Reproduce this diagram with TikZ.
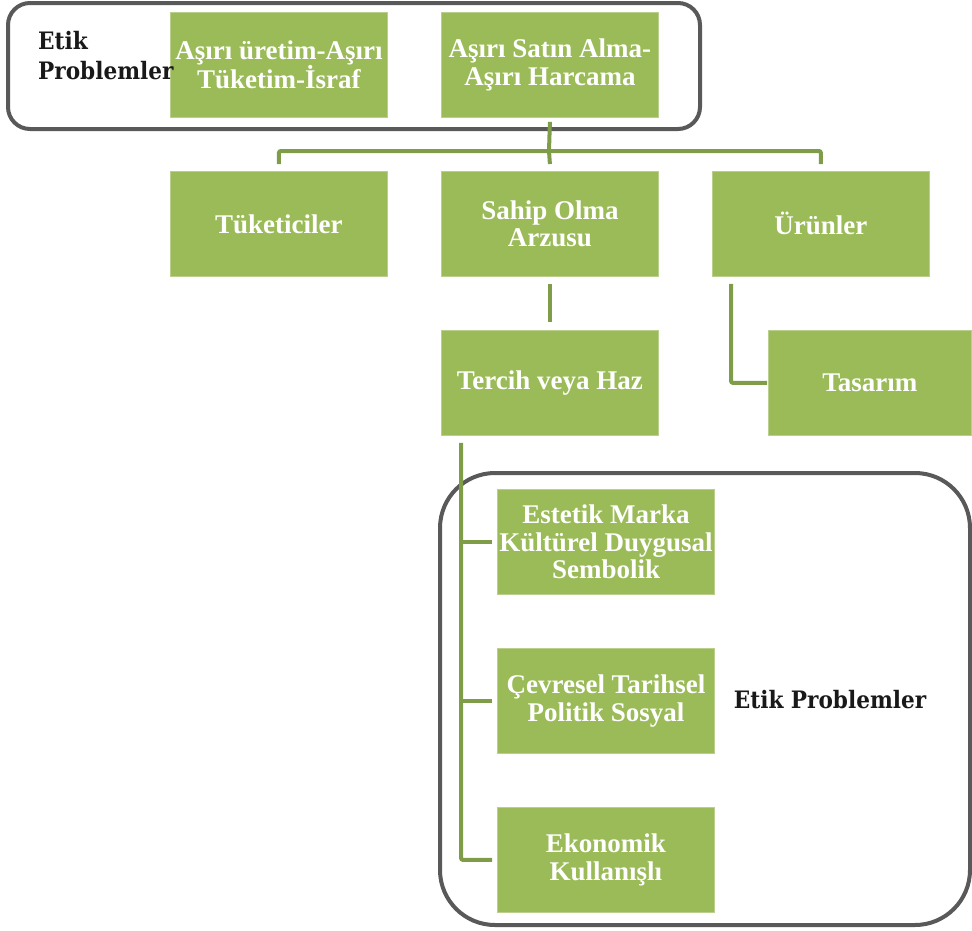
\documentclass[tikz,border=0pt]{standalone}
\usepackage{fontspec}
\setmainfont{Liberation Serif}
\newfontfamily\labelfont{DejaVu Serif Condensed}
\definecolor{boxgreen}{HTML}{9BBB59}
\definecolor{linegreen}{HTML}{7F9C48}
\definecolor{framegray}{HTML}{595959}
\begin{document}
\begin{tikzpicture}[x=1pt,y=-1pt,
  gbox/.style={fill=boxgreen, draw=boxgreen!70!white, line width=0.8pt, minimum width=217pt, minimum height=105pt,
    text=white, font=\bfseries\fontsize{27}{27.5}\selectfont, align=center, inner sep=2pt, anchor=north west},
  conn/.style={draw=linegreen, line width=4pt, rounded corners=2pt},
  frame/.style={draw=framegray, line width=4pt},
  label/.style={text=black!90, font=\labelfont\bfseries\fontsize{24}{30}\selectfont, align=left, inner sep=0pt}]
\useasboundingbox (0,0) rectangle (972,930);
% frames
\draw[frame, rounded corners=22pt] (8,3) rectangle (700,129);
\draw[frame, rounded corners=55pt] (440,473) rectangle (970,925);
% boxes
\node[gbox] (a1) at (170,12) {Aşırı üretim-Aşırı\\Tüketim-İsraf};
\node[gbox] (a2) at (441,12) {Aşırı Satın Alma-\\Aşırı Harcama};
\node[gbox] (c1) at (170,171) {Tüketiciler};
\node[gbox] (c2) at (441,171) {Sahip Olma\\Arzusu};
\node[gbox] (c3) at (712,171) {Ürünler};
\node[gbox] (t) at (441,330) {Tercih veya Haz};
\node[gbox, minimum width=203pt] (tas) at (768,330) {Tasarım};
\node[gbox] (e1) at (497,489) {Estetik Marka\\Kültürel Duygusal\\Sembolik};
\node[gbox] (e2) at (497,648) {Çevresel Tarihsel\\Politik Sosyal};
\node[gbox] (e3) at (497,807) {Ekonomik\\Kullanışlı};
% labels
\node[label, anchor=west] (l1) at (38,56) {Etik\\Problemler};
\node[label] (l2) at (830,700) {Etik Problemler};
% connectors
\coordinate (h) at (549,151);
\draw[conn] ([yshift=-4pt]a2.south) -- (h);
\draw[conn] ([yshift=7pt]c1.north) |- (h) -| ([yshift=7pt]c3.north);
\draw[conn] (h) -- ([yshift=7pt]c2.north);
\draw[conn] ([yshift=-7pt]c2.south) -- ([yshift=8pt]t.north);
\draw[conn] ([xshift=19pt,yshift=-7pt]c3.south west) |- ([xshift=-1pt]tas.west);
\coordinate (tr) at ([xshift=20pt,yshift=-7pt]t.south west);
\draw[conn] (tr) |- ([xshift=-5pt]e3.west);
\draw[conn] (tr |- e1.west) -- ([xshift=-5pt]e1.west);
\draw[conn] (tr |- e2.west) -- ([xshift=-5pt]e2.west);
\end{tikzpicture}
\end{document}
